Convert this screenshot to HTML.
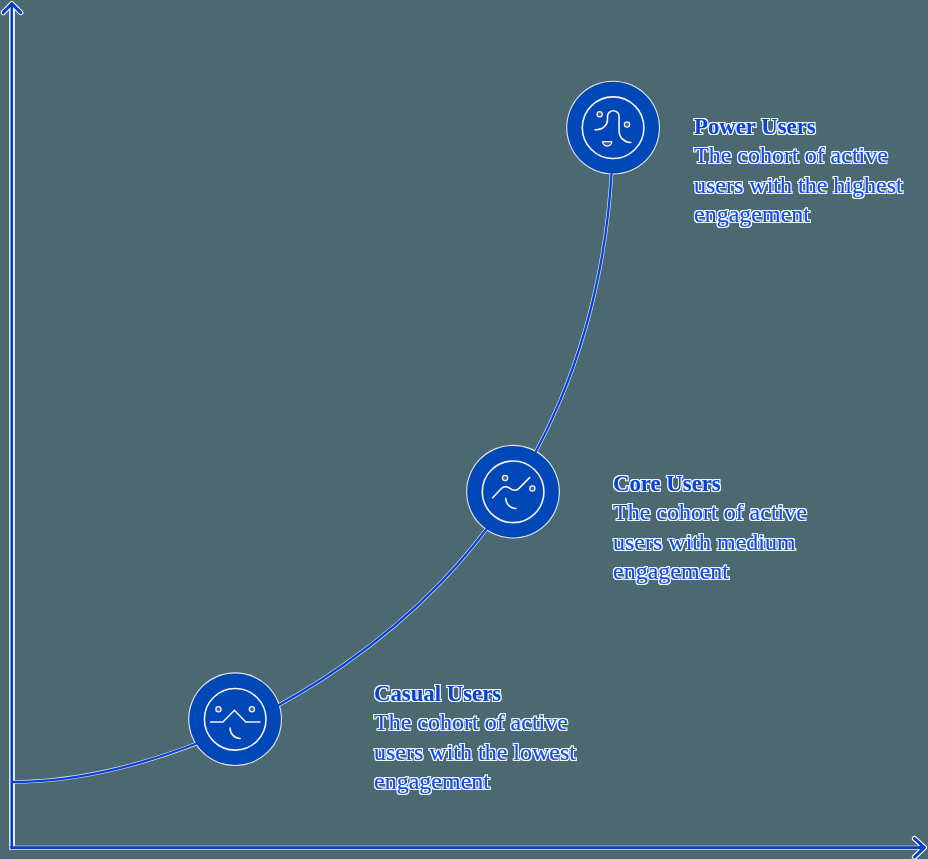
<!DOCTYPE html>
<html>
<head>
<meta charset="utf-8">
<title>User cohorts</title>
<style>
html,body{margin:0;padding:0;}
body{width:928px;height:859px;background:#4c6870;overflow:hidden;font-family:"Liberation Serif",serif;}
svg{position:absolute;left:0;top:0;display:block;}
.t{position:absolute;font-family:"Liberation Serif",serif;font-size:24px;line-height:29.4px;color:#0d4ce6;white-space:nowrap;will-change:transform;filter:url(#halo);
  -webkit-text-stroke:0.15px #0d4ce6;}
.t b{font-weight:bold;color:#0843d2;-webkit-text-stroke:0.1px #0843d2;display:inline-block;transform:scaleX(0.949);transform-origin:0 50%;}
</style>
</head>
<body>
<svg width="928" height="859" viewBox="0 0 928 859">
  <defs>
    <filter id="halo" x="-5%" y="-5%" width="110%" height="110%" color-interpolation-filters="sRGB">
      <feMorphology in="SourceAlpha" operator="dilate" radius="1" result="d"/>
      <feGaussianBlur in="d" stdDeviation="0.35" result="db0"/>
      <feComponentTransfer in="db0" result="db"><feFuncA type="linear" slope="1.5" intercept="0"/></feComponentTransfer>
      <feFlood flood-color="#ffffff" flood-opacity="0.95"/>
      <feComposite in2="db" operator="in" result="h"/>
      <feMerge><feMergeNode in="h"/><feMergeNode in="SourceGraphic"/></feMerge>
    </filter>
  </defs>
  <!-- halos -->
  <g fill="none" stroke="#ffffff" stroke-linecap="round" stroke-linejoin="round">
    <path d="M12,3.6 V848" stroke-width="5.8" stroke-opacity="0.92" stroke-linecap="butt"/>
    <path d="M3.2,12.6 L11.8,3.7 L20.8,12.6" stroke-width="5.2"/>
    <path d="M914.5,838.5 L924.4,847.6 L914.5,857" stroke-width="5.2"/>
    <path d="M12,782 C149.8,782 324.2,703.1 440.5,582.9 C539.9,480.1 601.4,340 611.5,174" stroke-width="3.6" stroke-opacity="0.85"/>
  </g>
  <rect x="9" y="845.6" width="915" height="4.4" fill="#c8c8f2"/>
  <g fill="#ffffff" fill-opacity="0.85">
    <circle cx="613.1" cy="127.6" r="46.9"/>
    <circle cx="513" cy="491.7" r="46.9"/>
    <circle cx="235.1" cy="719.2" r="46.9"/>
  </g>
  <!-- blue -->
  <g fill="none" stroke="#0040c0" stroke-linecap="round" stroke-linejoin="round">
    <path d="M11.75,3.6 V848" stroke-width="2.5"/>
    <path d="M3.2,12.6 L11.8,3.7 L20.8,12.6" stroke-width="3"/>
    <path d="M914.5,838.5 L924.4,847.6 L914.5,857" stroke-width="3"/>
    <path d="M12,782 C149.8,782 324.2,703.1 440.5,582.9 C539.9,480.1 601.4,340 611.5,174" stroke-width="2.3" stroke="#0842dc"/>
  </g>
  <rect x="10.5" y="846" width="914" height="3" fill="#0044c0"/>
  <rect x="13" y="846" width="906" height="0.8" fill="#4a6ae0"/>
  <g fill="#0047b8">
    <circle cx="613.1" cy="127.6" r="45.8"/>
    <circle cx="513" cy="491.7" r="45.8"/>
    <circle cx="235.1" cy="719.2" r="45.8"/>
  </g>
  <g fill="none" stroke="#f6f2ff" stroke-width="1.6" stroke-linecap="round" stroke-linejoin="miter">
    <circle cx="613.1" cy="127.7" r="30.8"/>
    <circle cx="513.1" cy="491.8" r="30.8"/>
    <circle cx="235.2" cy="719.3" r="30.8"/>
    <!-- power face -->
    <path d="M595,129.8 H596.5 A11,10.4 0 0 0 607.5,119.4 V116.5 A5.8,5.8 0 0 1 619.1,116.5 V131 A11.6,11.5 0 0 0 630.8,142.5"/>
    <!-- core face -->
    <path d="M492.7,497.7 L500.6,489.3 C503.5,486.2 507,486 510,488.4 C513,490.8 516,491 519,488.3 L529.6,477.6"/>
    <path d="M505.75,498.3 A10.2,10.2 0 0 0 515.9,508.5"/>
    <!-- casual face -->
    <path d="M210.6,721.95 H222.9 L234.45,710.3 L245.8,721.95 H259.8"/>
    <path d="M230.1,728.05 A10.2,10.2 0 0 0 240.3,738.5"/>
  </g>
  <g fill="#4c6870" stroke="#f4f0ff" stroke-width="1.25">
    <circle cx="599.65" cy="114.2" r="2.6"/>
    <circle cx="627" cy="124.4" r="2.6"/>
    <path d="M602.6,141.6 H611.8 A4.6,4.4 0 0 1 602.6,141.6 Z" stroke-linejoin="round"/>
    <circle cx="505.05" cy="477.9" r="2.6"/>
    <circle cx="532.35" cy="488.4" r="2.6"/>
    <circle cx="218.45" cy="709.3" r="2.6"/>
    <circle cx="251.9" cy="709.3" r="2.6"/>
  </g>
</svg>
<div class="t" style="left:694.3px;top:111.8px;"><b>Power Users</b><br>The cohort of active<br>users with the highest<br>engagement</div>
<div class="t" style="left:612.8px;top:468.8px;"><b>Core Users</b><br>The cohort of active<br>users with medium<br>engagement</div>
<div class="t" style="left:373.5px;top:679.3px;"><b>Casual Users</b><br>The cohort of active<br>users with the lowest<br>engagement</div>
</body>
</html>
